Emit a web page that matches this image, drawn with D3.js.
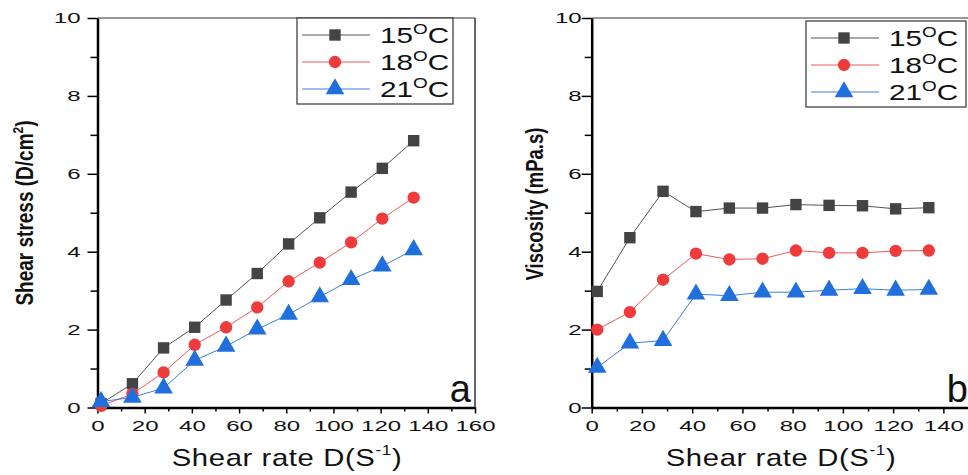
<!DOCTYPE html>
<html>
<head>
<meta charset="utf-8">
<script src="https://cdn.jsdelivr.net/npm/d3@7"></script>
<style>
  body { margin: 0; background: #fff; }
  svg { display: block; }
</style>
</head>
<body>
<svg id="chart" width="968" height="475"></svg>
<script>
// shear rate values (S^-1)
let rateA = [1.5, 14.8, 28, 41.2, 54.5, 67.7, 81, 94.2, 107.5, 120.7, 134]
let rateB = [2.2, 15.2, 28.4, 41.5, 54.8, 68, 81.3, 94.5, 107.8, 121, 134.2]

// shear stress (D/cm2)
let stress15 = [0.1, 0.61, 1.53, 2.06, 2.76, 3.44, 4.2, 4.87, 5.53, 6.14, 6.85]
let stress18 = [0.04, 0.35, 0.9, 1.61, 2.06, 2.57, 3.24, 3.72, 4.24, 4.85, 5.39]
let stress21 = [0.15, 0.26, 0.5, 1.21, 1.57, 2.01, 2.39, 2.84, 3.28, 3.63, 4.05]

// viscosity (mPa.s)
let visc15 = [2.98, 4.36, 5.55, 5.03, 5.12, 5.12, 5.21, 5.19, 5.18, 5.1, 5.13]
let visc18 = [2.0, 2.45, 3.28, 3.95, 3.8, 3.82, 4.03, 3.97, 3.97, 4.02, 4.03]
let visc21 = [1.03, 1.65, 1.72, 2.91, 2.87, 2.96, 2.96, 3.01, 3.05, 3.01, 3.03]

let seriesNames = ["15", "18", "21"]
let yTicks = [0, 2, 4, 6, 8, 10]
let xTicksA = [0, 20, 40, 60, 80, 100, 120, 140, 160]
let xTicksB = [0, 20, 40, 60, 80, 100, 120, 140]

let colors = ["#444444", "#ef3b3b", "#1f6fdc"]
let lineColors = ["#555555", "#ef5a5a", "#3a80dd"]
let shapes = [d3.symbolSquare, d3.symbolCircle, d3.symbolTriangle]
let sizes = [130, 120, 150]

var svg = d3.select("#chart")
var font = "'Liberation Sans', Arial, sans-serif"
var narrow = "'Liberation Sans Narrow', 'Arial Narrow', 'Liberation Sans', sans-serif"
var stretch = 1.55   // the picture's tick labels are wide

let drawPanel = (p) => {
    var x = d3.scaleLinear().domain(p.xDomain).range([p.left, p.right])
    var y = d3.scaleLinear().domain([0, 10]).range([407.5, 18])
    var g = svg.append("g")

    // frame top / right
    g.append("line").attr("x1", p.left).attr("x2", p.right)
        .attr("y1", y(10)).attr("y2", y(10))
        .attr("stroke", "#333").attr("stroke-width", 1)
    g.append("line").attr("x1", p.right).attr("x2", p.right)
        .attr("y1", y(10)).attr("y2", y(0))
        .attr("stroke", "#333").attr("stroke-width", 1.5)

    // minor ticks
    g.append("g").attr("transform", "translate(" + p.left + ",0)")
        .call(d3.axisLeft(y).tickValues([1, 3, 5, 7, 9]).tickFormat("").tickSize(7).tickSizeOuter(0))
        .call(a => a.select(".domain").remove())
    g.append("g").attr("transform", "translate(0," + y(0) + ")")
        .call(d3.axisBottom(x).tickValues(p.xTicks.slice(0, -1).map(v => v + 10)).tickFormat("").tickSize(4).tickSizeOuter(0))
        .call(a => a.select(".domain").remove())

    var ya = g.append("g").attr("transform", "translate(" + p.left + ",0)")
        .call(d3.axisLeft(y).tickValues(yTicks).tickSize(10).tickSizeOuter(0).tickPadding(p.yPad))
    var xa = g.append("g").attr("transform", "translate(0," + y(0) + ")")
        .call(d3.axisBottom(x).tickValues(p.xTicks).tickSize(6).tickSizeOuter(0).tickPadding(7))

    ;[ya, xa].forEach(a => {
        a.select(".domain").attr("stroke", "#000").attr("stroke-width", 2.5)
        a.selectAll("text").attr("font-family", font).attr("font-size", 15.5).attr("fill", "#111")
            .attr("transform", "scale(" + stretch + ",1)")
    })
    ya.selectAll("text").attr("x", -(10 + p.yPad) / stretch)
    g.selectAll(".tick line").attr("stroke", "#000").attr("stroke-width", 1.5)

    // series
    p.series.forEach((vals, i) => {
        var pts = vals.map((v, k) => [p.rates[k], v])
        g.append("path").datum(pts)
            .attr("fill", "none").attr("stroke", lineColors[i]).attr("stroke-width", 1)
            .attr("d", d3.line().x(d => x(d[0])).y(d => y(d[1])))
        g.selectAll(".m" + i).data(pts).enter().append("path")
            .attr("transform", d => "translate(" + x(d[0]) + "," + y(d[1]) + ")")
            .attr("d", d3.symbol().type(shapes[i]).size(sizes[i]))
            .attr("fill", colors[i])
    })

    // legend
    var lg = g.append("g")
    lg.append("rect").attr("x", p.leg.x).attr("y", p.leg.y).attr("width", p.leg.w).attr("height", 86)
        .attr("fill", "#fff").attr("stroke", "#333").attr("stroke-width", 1.2)
    seriesNames.forEach((name, i) => {
        var ry = p.leg.y + 17 + i * 27
        lg.append("line").attr("x1", p.leg.x + 5).attr("x2", p.leg.x + 73)
            .attr("y1", ry).attr("y2", ry).attr("stroke", lineColors[i]).attr("stroke-width", 1)
        lg.append("path").attr("transform", "translate(" + (p.leg.x + 38) + "," + ry + ")")
            .attr("d", d3.symbol().type(shapes[i]).size(sizes[i])).attr("fill", colors[i])
        var t = lg.append("text")
            .attr("transform", "translate(" + (p.leg.x + 83) + "," + (ry + 8) + ") scale(1.35,1)")
            .attr("font-family", font).attr("font-size", 22).attr("fill", "#111")
        t.append("tspan").text(name)
        t.append("tspan").attr("font-size", 14).attr("dy", -9).text("O")
        t.append("tspan").attr("dy", 9).text("C")
    })

    // titles
    var yt = g.append("text")
        .attr("transform", "translate(" + p.yTitleX + "," + p.yTitleY + ") rotate(-90) scale(1,1.25)")
        .attr("text-anchor", "middle").attr("font-family", narrow).attr("font-weight", "bold")
        .attr("font-size", p.yTitleSize).attr("fill", "#111")
    p.yTitle(yt)

    var xt = g.append("text")
        .attr("transform", "translate(" + p.xTitleX + ",466) scale(1.22,1)")
        .attr("text-anchor", "middle").attr("font-family", font)
        .attr("font-size", 24).attr("letter-spacing", 0.5).attr("fill", "#111")
    xt.append("tspan").text("Shear rate D(S")
    xt.append("tspan").attr("font-size", 14).attr("dy", -11).text("-1")
    xt.append("tspan").attr("dy", 11).text(")")

    g.append("text").attr("x", p.letterX).attr("y", 402).attr("text-anchor", "end")
        .attr("font-family", font).attr("font-size", 38).attr("fill", "#111").text(p.letter)
}

drawPanel({
    left: 97.5, right: 475, xDomain: [0, 160], xTicks: xTicksA, rates: rateA,
    series: [stress15, stress18, stress21], yPad: 7,
    leg: { x: 297, y: 18, w: 156 },
    yTitleX: 33, yTitleY: 213, yTitleSize: 19, xTitleX: 287, letter: "a", letterX: 471,
    yTitle: t => {
        t.append("tspan").text("Shear stress (D/cm")
        t.append("tspan").attr("font-size", 12).attr("dy", -8).text("2")
        t.append("tspan").attr("dy", 8).text(")")
    }
})

drawPanel({
    left: 591.7, right: 970, xDomain: [0, 150.6], xTicks: xTicksB, rates: rateB,
    series: [visc15, visc18, visc21], yPad: 0,
    leg: { x: 806, y: 21, w: 160 },
    yTitleX: 543, yTitleY: 204, yTitleSize: 18.5, xTitleX: 781, letter: "b", letterX: 968,
    yTitle: t => { t.text("Viscosity (mPa.s)") }
})
</script>
</body>
</html>
